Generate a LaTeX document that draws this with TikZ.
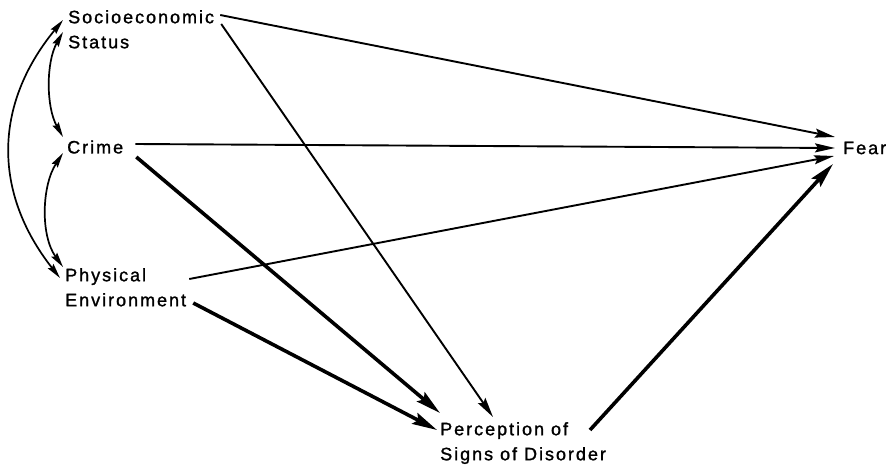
\documentclass[tikz,border=0pt]{standalone}
\usepackage{fontspec}
\newfontfamily\lblfont{Liberation Sans}[LetterSpace=11,FakeBold=1.3]
\usetikzlibrary{arrows.meta}
\begin{document}
\begin{tikzpicture}[x=1pt,y=-1pt,
  lbl/.style={inner sep=0pt,align=left,font=\lblfont\fontsize{18}{25}\selectfont},
  path/.style={line width=1.9pt,-{Stealth[length=20pt,width=9pt,inset=3pt]}},
  strong/.style={line width=3.6pt,-{Stealth[length=25pt,width=12pt,inset=4pt]}},
  corr/.style={line width=1.7pt,{Stealth[length=15pt,width=7pt,inset=2pt]}-{Stealth[length=15pt,width=7pt,inset=2pt]}}]
  \useasboundingbox (0,0) rectangle (892,466);
  % variables
  \node[lbl,anchor=north west] (ses) at (68,10) {Socioeconomic\\Status};
  \node[lbl,anchor=west] (crime) at (67,147) {Crime};
  \node[lbl,anchor=north west] (phys) at (65,268) {Physical\\Environment};
  \node[lbl,anchor=west] (fear) at (843,148) {Fear};
  \node[lbl,anchor=north west] (perc) at (440,422) {Perception of\\Signs of Disorder};
  % correlations
  \draw[corr] ([shift={(-5,10)}]ses.north west)
    .. controls +(-70,85) and +(-67,-85) .. ([shift={(-5,10)}]phys.north west);
  \draw[corr] ([shift={(-5,22)}]ses.north west)
    .. controls +(-17,30) and +(-17,-30) .. ([shift={(-4,-10)}]crime.west);
  \draw[corr] ([shift={(-4,6)}]crime.west)
    .. controls +(-21,32) and +(-23,-32) .. ([shift={(-2,-1)}]phys.north west);
  % direct paths
  \draw[path] ([shift={(6,5)}]ses.north east) -- ([shift={(-8,-11)}]fear.west);
  \draw[path] ([shift={(7,14)}]ses.north east) -- ([shift={(53,-5)}]perc.north west);
  \draw[path] ([shift={(12,-3)}]crime.east) -- ([shift={(-8,0)}]fear.west);
  \draw[path] ([shift={(3,11)}]phys.north east) -- ([shift={(-9,8)}]fear.west);
  % paths via disorder
  \draw[strong] ([shift={(13,10)}]crime.east) -- ([shift={(0,-9)}]perc.north west);
  \draw[strong] ([shift={(7,35)}]phys.north east) -- ([shift={(-3,8)}]perc.north west);
  \draw[strong] ([shift={(150,8)}]perc.north west) -- ([shift={(-10,16)}]fear.west);
\end{tikzpicture}
\end{document}
